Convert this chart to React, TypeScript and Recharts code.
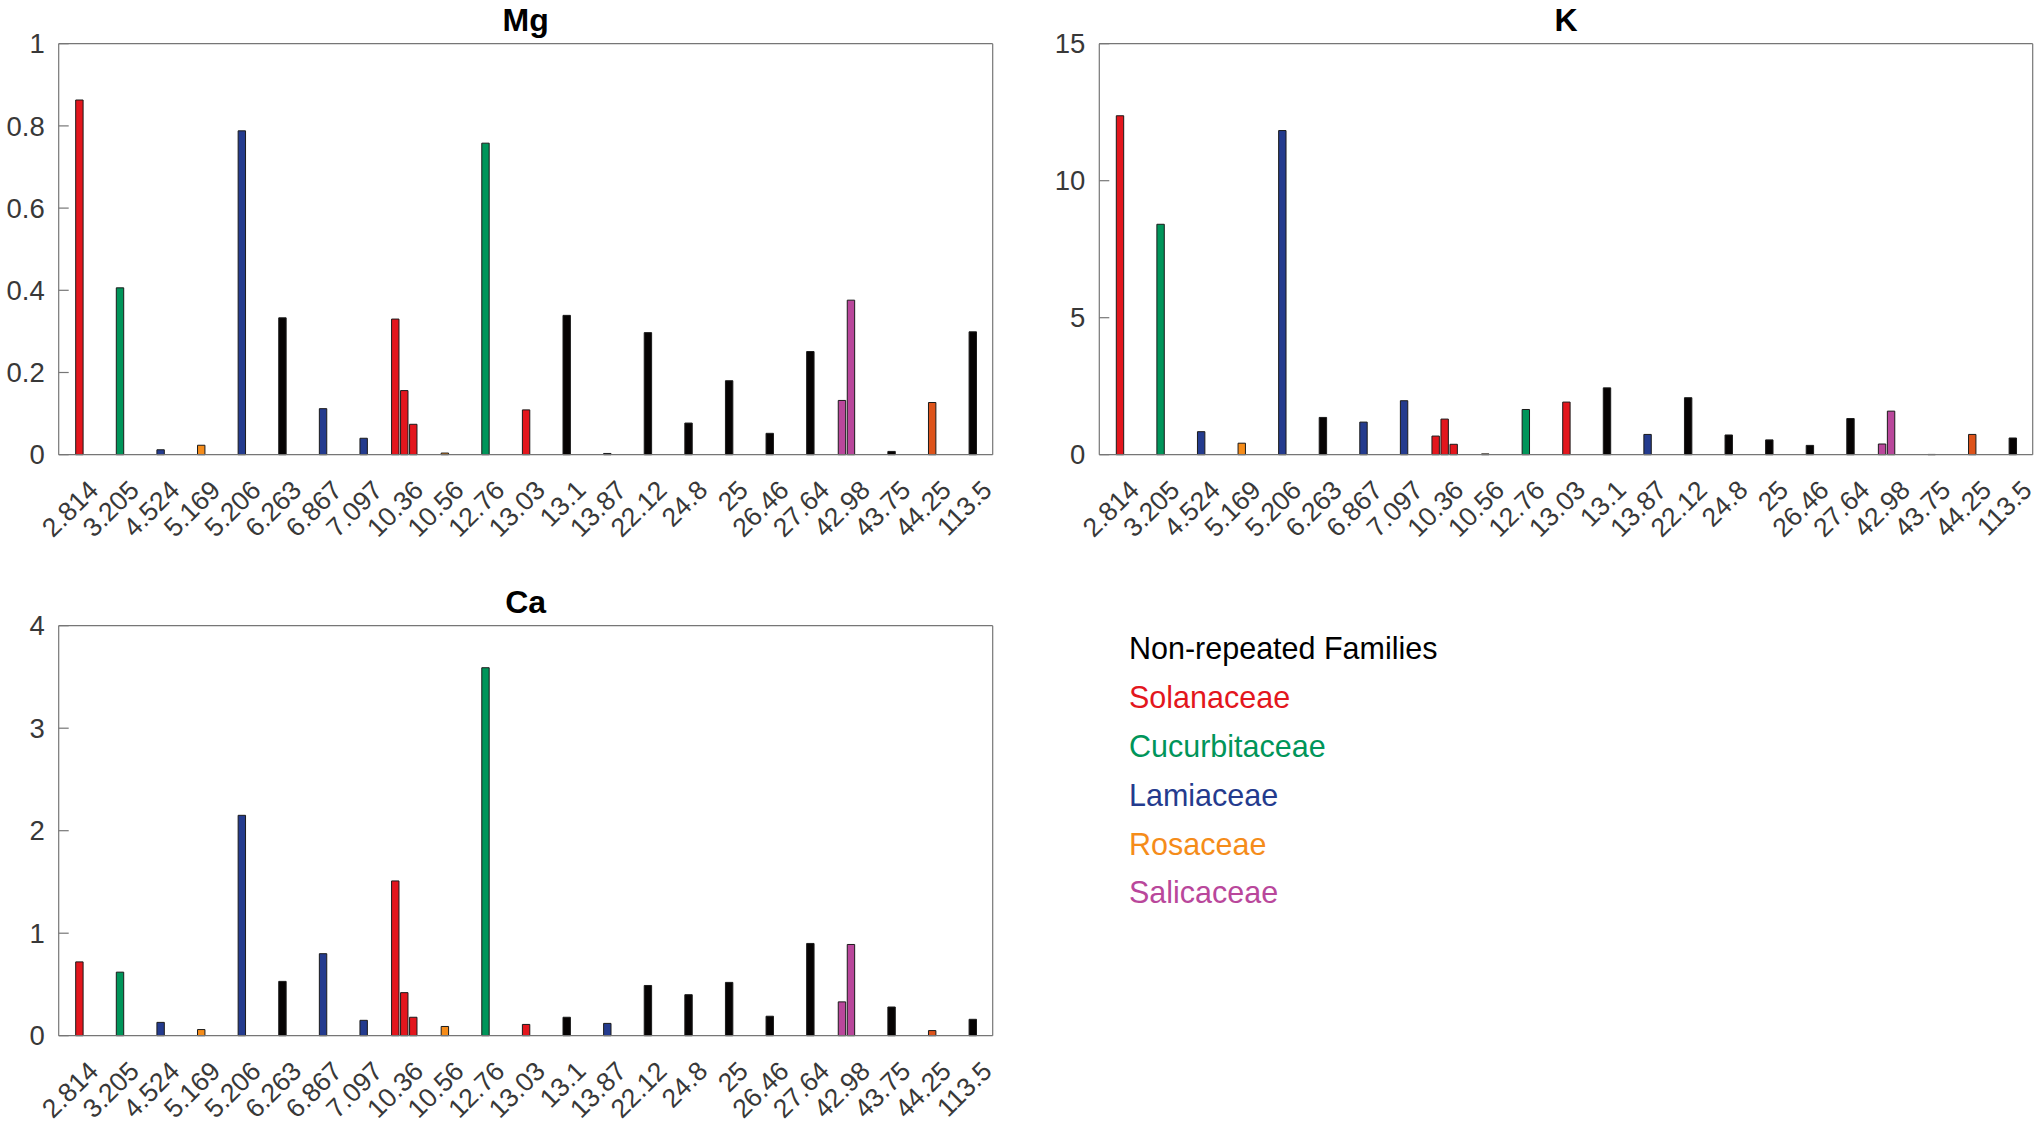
import { BarChart, Bar, XAxis, YAxis, Cell } from "recharts";

const categories = [
  "2.814", "3.205", "4.524", "5.169", "5.206", "6.263", "6.867", "7.097",
  "10.36", "10.56", "12.76", "13.03", "13.1", "13.87", "22.12", "24.8",
  "25", "26.46", "27.64", "42.98", "43.75", "44.25", "113.5",
];

const families = [
  "Solanaceae", "Cucurbitaceae", "Lamiaceae", "Rosaceae", "Lamiaceae",
  "Non-repeated Families", "Lamiaceae", "Lamiaceae", "Solanaceae", "Rosaceae",
  "Cucurbitaceae", "Solanaceae", "Non-repeated Families", "Lamiaceae",
  "Non-repeated Families", "Non-repeated Families", "Non-repeated Families",
  "Non-repeated Families", "Non-repeated Families", "Salicaceae",
  "Non-repeated Families", "Rosaceae", "Non-repeated Families",
];

const legendNames = ["Non-repeated Families", "Solanaceae", "Cucurbitaceae", "Lamiaceae", "Rosaceae", "Salicaceae"];

// three bar slots per category (left / middle / right), single values sit in the middle
const mgLeft = [null, null, null, null, null, null, null, null, 0.33, null, null, null, null, null, null, null, null, null, null, 0.132, null, null, null];
const mgMid = [0.863, 0.406, 0.012, 0.023, 0.788, 0.333, 0.112, 0.04, 0.156, 0.004, 0.758, 0.109, 0.339, 0.003, 0.297, 0.077, 0.18, 0.052, 0.251, 0.376, 0.008, 0.127, 0.299];
const mgRight = [null, null, null, null, null, null, null, null, 0.074, null, null, null, null, null, null, null, null, null, null, null, null, null, null];

const kLeft = [null, null, null, null, null, null, null, null, 0.68, null, null, null, null, null, null, null, null, null, null, 0.39, null, null, null];
const kMid = [12.37, 8.41, 0.84, 0.42, 11.83, 1.36, 1.19, 1.97, 1.3, 0.03, 1.65, 1.92, 2.44, 0.74, 2.08, 0.72, 0.54, 0.34, 1.32, 1.59, 0.01, 0.74, 0.61];
const kRight = [null, null, null, null, null, null, null, null, 0.38, null, null, null, null, null, null, null, null, null, null, null, null, null, null];

const caLeft = [null, null, null, null, null, null, null, null, 1.51, null, null, null, null, null, null, null, null, null, null, 0.33, null, null, null];
const caMid = [0.72, 0.62, 0.13, 0.06, 2.15, 0.53, 0.8, 0.15, 0.42, 0.09, 3.59, 0.11, 0.18, 0.12, 0.49, 0.4, 0.52, 0.19, 0.9, 0.89, 0.28, 0.05, 0.16];
const caRight = [null, null, null, null, null, null, null, null, 0.18, null, null, null, null, null, null, null, null, null, null, null, null, null, null];

const mgTicks = [0, 0.2, 0.4, 0.6, 0.8, 1];
const kTicks = [0, 5, 10, 15];
const caTicks = [0, 1, 2, 3, 4];

const FONT = "'Liberation Sans', Arial, Helvetica, sans-serif";
const AXIS = "#767676";
const TICK_TEXT = "#383838";

const familyColor: Record<string, string> = {
  "Non-repeated Families": "#060303",
  Solanaceae: "#E3161D",
  Cucurbitaceae: "#00955A",
  Lamiaceae: "#243B8E",
  Rosaceae: "#F58C1A",
  Salicaceae: "#B9479B",
};
// the 44.25 bar is printed in a darker orange than the other Rosaceae bars
const colorOverride: Record<string, string> = { "44.25": "#DD531A" };

const barColor = (i: number) => colorOverride[categories[i]] || familyColor[families[i]];

const makeRows = (left: any[], mid: any[], right: any[]) =>
  categories.map((name, i) => ({ name, left: left[i], mid: mid[i], right: right[i] }));

const SlantTick = (props: any) => {
  const { x, y, payload } = props;
  return (
    <g transform={`translate(${x + 21},${y + 37}) rotate(-45)`}>
      <text x={0} y={0} textAnchor="end" fontSize={26.5} fontFamily={FONT} fill={TICK_TEXT}>
        {payload.value}
      </text>
    </g>
  );
};

type ChartProps = {
  rows: any[];
  domain: [number, number];
  ticks: number[];
  width: number;
  height: number;
  margin: { top: number; right: number; bottom: number; left: number };
  yWidth: number;
};

function ElementChart({ rows, domain, ticks, width, height, margin, yWidth }: ChartProps) {
  const series = ["left", "mid", "right"];
  const axisLine = { stroke: AXIS, strokeWidth: 1.2 };
  return (
    <BarChart width={width} height={height} data={rows} margin={margin} barGap={1.6}>
      <XAxis
        dataKey="name"
        interval={0}
        tickLine={false}
        tickSize={0}
        tickMargin={0}
        height={90}
        axisLine={axisLine}
        tick={SlantTick}
      />
      <XAxis xAxisId="top" orientation="top" dataKey="name" height={1} tick={false} tickLine={false} axisLine={axisLine} />
      <YAxis
        domain={domain}
        ticks={ticks}
        width={yWidth}
        tickSize={-10}
        tickMargin={24}
        axisLine={axisLine}
        tickLine={axisLine}
        tick={{ fontSize: 27.5, fontFamily: FONT, fill: TICK_TEXT }}
      />
      <YAxis
        yAxisId="r"
        orientation="right"
        domain={domain}
        ticks={ticks}
        allowDataOverflow
        width={1}
        tickSize={-10}
        tick={false}
        axisLine={axisLine}
        tickLine={axisLine}
      />
      {series.map((key) => (
        <Bar key={key} dataKey={key} barSize={7.4} stroke="#1b1b1b" strokeWidth={1} isAnimationActive={false}>
          {rows.map((r, i) => (
            <Cell key={r.name} fill={barColor(i)} />
          ))}
        </Bar>
      ))}
      {/* invisible series that ties the frame axes (top and right) to the data */}
      <Bar xAxisId="top" yAxisId="r" dataKey="mid" barSize={1} fill="transparent" stroke="none" isAnimationActive={false} />
    </BarChart>
  );
}

const mgRows = makeRows(mgLeft, mgMid, mgRight);
const kRows = makeRows(kLeft, kMid, kRight);
const caRows = makeRows(caLeft, caMid, caRight);

export default function App() {
  return (
    <div style={{ position: "absolute", left: 0, top: 0, width: 2040, height: 1128, background: "#fff", overflow: "hidden" }}>
      <div style={{ position: "absolute", left: 0, top: 0 }}>
        <ElementChart rows={mgRows} domain={[0, 1]} ticks={mgTicks} width={1010} height={560}
          margin={{ top: 42.7, right: 16.3, bottom: 15.3, left: 0 }} yWidth={58.7} />
      </div>
      <div style={{ position: "absolute", left: 1020, top: 0 }}>
        <ElementChart rows={kRows} domain={[0, 15]} ticks={kTicks} width={1020} height={560}
          margin={{ top: 42.7, right: 6.3, bottom: 15.3, left: 0 }} yWidth={79.3} />
      </div>
      <div style={{ position: "absolute", left: 0, top: 580 }}>
        <ElementChart rows={caRows} domain={[0, 4]} ticks={caTicks} width={1010} height={548}
          margin={{ top: 44.7, right: 16.3, bottom: 2.3, left: 0 }} yWidth={58.7} />
      </div>
      <svg width={2040} height={1128} style={{ position: "absolute", left: 0, top: 0, pointerEvents: "none" }}>
        <g fontFamily={FONT} fontWeight="bold" fontSize={32} fill="#000" textAnchor="middle">
          <text x={525.7} y={31}>Mg</text>
          <text x={1566} y={31}>K</text>
          <text x={525.7} y={612.5}>Ca</text>
        </g>
        <g fontFamily={FONT} fontSize={30.5}>
          {legendNames.map((name, i) => (
            <text key={name} x={1129} y={659.3 + i * 48.8} fill={name === "Non-repeated Families" ? "#000" : familyColor[name]}>
              {name}
            </text>
          ))}
        </g>
      </svg>
    </div>
  );
}
